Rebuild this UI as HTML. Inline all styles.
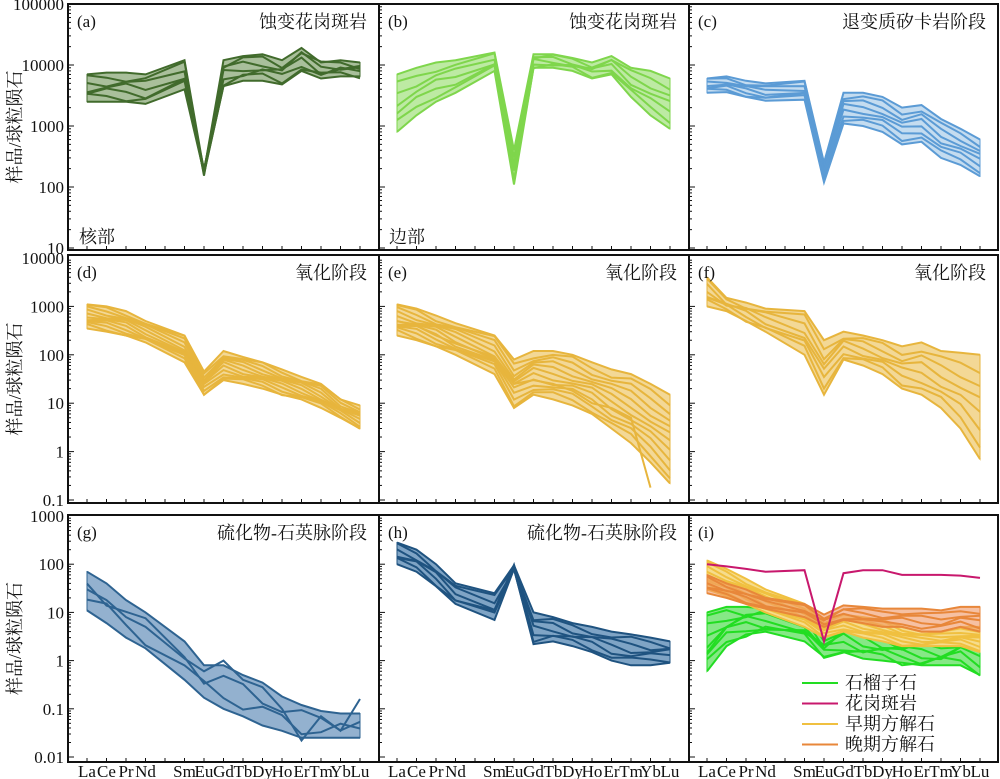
<!DOCTYPE html>
<html><head><meta charset="utf-8"><style>
html,body{margin:0;padding:0;background:#fff;}
svg{display:block;}
.n{font-family:"Liberation Serif",serif;font-size:17px;fill:#111;}
.c{font-family:"Liberation Serif","Noto Serif CJK SC","Noto Sans CJK SC",serif;font-size:18px;fill:#111;}
</style></head><body>
<svg id="s" width="1000" height="779" viewBox="0 0 1000 779" xmlns="http://www.w3.org/2000/svg"></svg>
<script>
const S=document.getElementById('s');let h='';
const idx=[0,1,2,3,5,6,7,8,9,10,11,12,13,14];
const cols=[[68,379],[379,689],[689,998]];
const rows=[{t:4,b:250,y:v=>248-(Math.log10(v)-1)*61,dec:[1,2,3,4,5],ymin:10},
{t:255,b:503,y:v=>500-(Math.log10(v)+1)*48.4,dec:[-1,0,1,2,3,4],ymin:0.1},
{t:515,b:762,y:v=>757-(Math.log10(v)+2)*48.2,dec:[-2,-1,0,1,2,3],ymin:0.01}];
function X(c,i){return c*310+87+idx[i]*19.5;}
function lerp(a,b,t,w){return a.map((v,i)=>Math.exp(Math.log(v)*(1-t)+Math.log(b[i])*t)*(1+w*Math.sin(i*1.7+t*9)));}
function panel(c,r,up,lo,n,stroke,fill,w,extra){
 const R=rows[r];let pts=up.map((v,i)=>X(c,i).toFixed(1)+','+R.y(v).toFixed(1));
 let pl=lo.map((v,i)=>X(c,i).toFixed(1)+','+R.y(v).toFixed(1)).reverse();
 h+=`<polygon points="${pts.join(' ')} ${pl.join(' ')}" fill="${fill}" stroke="${stroke}" stroke-width="1"/>`;
 for(let k=0;k<n;k++){let t=k/(n-1);let d=lerp(up,lo,t,(k==0||k==n-1)?0:w);
  h+=`<polyline points="${d.map((v,i)=>X(c,i).toFixed(1)+','+R.y(v).toFixed(1)).join(' ')}" fill="none" stroke="${stroke}" stroke-width="2"/>`;}
 if(extra)extra.forEach(d=>{h+=`<polyline points="${d.map((v,i)=>X(c,i).toFixed(1)+','+R.y(v).toFixed(1)).join(' ')}" fill="none" stroke="${stroke}" stroke-width="2"/>`;});
}
panel(0,0,[7000,7500,7500,7000,12000,180,12000,14000,15000,12000,19000,11000,12000,11000],[2500,2500,2500,2300,4000,170,4500,5500,5500,4800,8000,6000,6500,6500],7,'#416b2c','#a9bf9b',0.15);
panel(1,0,[7000,9000,11000,12000,16000,400,15000,15000,13000,11000,14000,9000,8000,6000],[800,1500,2500,3500,8000,110,9000,9000,8000,6000,7000,3000,1500,900],7,'#7fd64c','#bdeaa3',0.1);
panel(2,0,[6000,6500,5500,5000,5500,250,3500,3500,3000,2000,2200,1300,900,600],[3500,3600,3000,2600,2700,120,1100,1000,800,500,550,300,230,150],8,'#5b9bd5','#c4dcf0',0.08);
panel(0,1,[1100,1000,800,500,250,45,120,90,70,50,35,25,12,9],[350,300,250,180,70,15,30,25,20,15,12,8,5,3],12,'#e7b53d','#f3d896',0.12);
panel(1,1,[1100,900,650,450,250,80,120,120,100,70,50,40,25,15],[250,200,150,100,40,8,15,12,9,6,3,1.5,0.6,0.22],12,'#e7b53d','#f3d896',0.15,[[500,400,250,170,90,25,30,25,18,10,8,5,0.18,0.18].slice(0,13)]);
panel(2,1,[4000,1500,1200,900,800,200,300,250,200,150,180,120,110,100],[1000,800,500,300,100,15,80,60,40,20,15,8,3,0.7],8,'#e7b53d','#f3d896',0.15);
panel(0,2,[70,40,18,10,2.5,0.8,0.8,0.5,0.35,0.18,0.12,0.09,0.08,0.08],[11,6,3,1.8,0.4,0.17,0.1,0.07,0.045,0.035,0.025,0.025,0.025,0.025],4,'#2e6391','#93b1cf',0.35,[[30,18,8,5,1.1,0.6,1,0.4,0.28,0.1,0.022,0.07,0.035,0.16]]);
panel(1,2,[280,200,100,40,25,95,10,8,6,5,4,3.5,3,2.5],[100,70,35,15,7,80,2.2,2.5,2,1.5,1,0.8,0.8,0.9],7,'#1f5380','#7fa4c5',0.15);
panel(2,2,[10,13,13,12,10,3,6,5,4,3,3,3,5,4],[0.6,2,3.5,4,2.5,1.2,1.5,1.1,1,0.9,0.8,0.8,0.8,0.5],9,'#22dd22','#86e886',0.25);
panel(2,2,[120,80,50,30,15,6,9,8,7,5,4,4,5,5],[30,22,15,10,5,3,4,3,2.5,2,2,2,2,1.5],9,'#f0c040','#f6dc8c',0.1);
panel(2,2,[60,40,30,20,15,9,14,13,12,12,12,11,13,13],[25,20,15,12,8,5,7,6,5,5,4,4,5,4],6,'#e8873a','rgba(240,150,100,0.6)',0.1);
{const R=rows[2];const d=[100,90,80,70,75,2.5,65,75,75,60,60,60,58,52];h+=`<polyline points="${d.map((v,i)=>X(2,i).toFixed(1)+','+R.y(v).toFixed(1)).join(' ')}" fill="none" stroke="#c8186d" stroke-width="2"/>`;}
const labs=['La','Ce','Pr','Nd','Sm','Eu','Gd','Tb','Dy','Ho','Er','Tm','Yb','Lu'];
rows.forEach((R,r)=>{cols.forEach((C,c)=>{
 h+=`<rect x="${C[0]}" y="${R.t}" width="${C[1]-C[0]}" height="${R.b-R.t}" fill="none" stroke="#111" stroke-width="2"/>`;
 for(let i=0;i<15;i++){let x=c*310+87+i*19.5;h+=`<line x1="${x}" y1="${R.b}" x2="${x}" y2="${R.b-4}" stroke="#111"/>`;}
 R.dec.forEach((d,k)=>{if(k==R.dec.length-1)return;for(let m=1;m<10;m++){let y=R.y(m*Math.pow(10,d));if(y<R.t)continue;h+=`<line x1="${C[0]}" y1="${y}" x2="${C[0]+(m==1?6:3)}" y2="${y}" stroke="#111"/>`;}});
});
 R.dec.forEach(d=>{let v=Math.pow(10,d);let t=d<0?v.toFixed(-d):String(v);h+=`<text class="n" x="64" y="${R.y(v)+6}" text-anchor="end">${t}</text>`;});
 let yc=(R.t+R.b)/2;h+=`<text class="c" transform="translate(21,${yc}) rotate(-90)" text-anchor="middle">样品/球粒陨石</text>`;
});
[0,1,2].forEach(c=>{labs.forEach((l,i)=>{h+=`<text class="n" x="${X(c,i)}" y="777" text-anchor="middle" font-size="14" fill="#222">${l}</text>`;});});
const tit=[['(a)','蚀变花岗斑岩'],['(b)','蚀变花岗斑岩'],['(c)','退变质矽卡岩阶段'],['(d)','氧化阶段'],['(e)','氧化阶段'],['(f)','氧化阶段'],['(g)','硫化物-石英脉阶段'],['(h)','硫化物-石英脉阶段'],['(i)','']];
tit.forEach((t,k)=>{let r=Math.floor(k/3),c=k%3;let R=rows[r],C=cols[c];
 h+=`<text class="n" x="${C[0]+9}" y="${R.t+23}" font-size="19">${t[0]}</text>`;
 if(t[1])h+=`<text class="c" x="${C[1]-12}" y="${R.t+24}" text-anchor="end">${t[1]}</text>`;});
h+=`<text class="c" x="79" y="243">核部</text><text class="c" x="389" y="243">边部</text>`;
const lg=[['#22dd22','石榴子石'],['#c8186d','花岗斑岩'],['#f0c040','早期方解石'],['#e8873a','晚期方解石']];
lg.forEach((l,k)=>{let y=683+k*20.5;h+=`<line x1="802" y1="${y}" x2="838" y2="${y}" stroke="${l[0]}" stroke-width="2"/><text class="c" x="845" y="${y+6}">${l[1]}</text>`;});
S.innerHTML=h;
</script>
</body></html>
